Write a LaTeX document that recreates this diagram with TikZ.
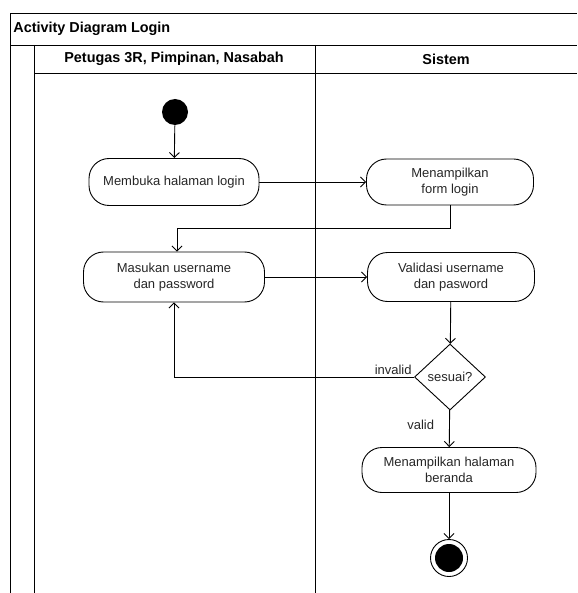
\documentclass[tikz,border=0pt]{standalone}
\usepackage{fontspec}
\setmainfont{Liberation Sans}
\usetikzlibrary{shapes.geometric,arrows.meta}
\begin{document}
\begin{tikzpicture}[x=1pt,y=-1pt,
  line width=0.9pt,
  >={Straight Barb[length=5pt,width=10pt]},
  act/.style={draw,rounded corners=20pt,align=center,inner sep=0pt,
    font=\fontsize{13}{16}\selectfont,text=black!85},
  lbl/.style={font=\fontsize{13}{16}\selectfont,text=black!85,inner sep=2pt},
  hdr/.style={font=\fontsize{14.4}{17}\selectfont\bfseries}]
\useasboundingbox (0,0) rectangle (577,593);
\draw (10,593) -- (10,13) -- (577,13);
\draw (10,45) -- (577,45);
\draw (34,73) -- (577,73);
\draw (34,45) -- (34,593);
\draw (315,45) -- (315,593);
\node[hdr,anchor=west,inner sep=0pt] (title) at (13,29) {Activity Diagram Login};
\node[hdr] (lane1) at (174,59) {Petugas 3R, Pimpinan, Nasabah};
\node[hdr] (lane2) at (446,59) {Sistem};

\node[circle,fill=black,minimum size=26pt,inner sep=0pt] (start) at (175,112) {};
\node[act,minimum width=170pt,minimum height=47pt] (login) at (174,182) {Membuka halaman login};
\node[act,minimum width=167pt,minimum height=46pt] (form) at (450,182) {Menampilkan\\form login};
\node[act,minimum width=181pt,minimum height=50pt] (input) at (174,277) {Masukan username\\dan password};
\node[act,minimum width=167pt,minimum height=49pt] (valid) at (451,277) {Validasi username\\dan pasword};
\node[diamond,draw,minimum width=71pt,minimum height=66pt,inner sep=0pt,
  font=\fontsize{13}{16}\selectfont,text=black!85] (cek) at (450,377) {sesuai?};
\node[act,minimum width=174pt,minimum height=45pt] (beranda) at (449,470) {Menampilkan halaman\\beranda};
\node[circle,draw,minimum size=37pt,inner sep=0pt] (end) at (449,558) {};
\node[circle,fill=black,minimum size=28pt,inner sep=0pt] (endin) at (end) {};
\coordinate (k1) at (177,228);

\draw[->] (start) -- (login);
\draw[->] (login) -- (form);
\draw[->] (form.south) |- (k1) -- (k1 |- input.north);
\draw[->] (input) -- (valid);
\draw[->] (valid) -- (cek);
\draw[->] (cek.west) -| (input.south);
\node[lbl,anchor=south east] (inv) at (cek.west) {invalid};
\draw[->] (cek) -- node[lbl,left=13pt,pos=0.4] (ok) {valid} (beranda);
\draw[->] (beranda) -- (end);
\end{tikzpicture}
\end{document}
